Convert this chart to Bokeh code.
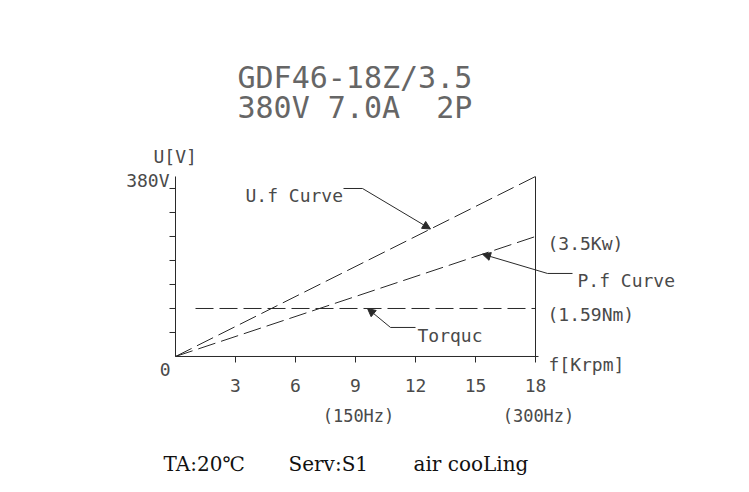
from bokeh.plotting import figure
from bokeh.models import Range1d, Arrow, NormalHead
from bokeh.core.properties import value
from bokeh.embed import file_html
from bokeh.resources import INLINE

# ---- data ----
speed_ticks = [3, 6, 9, 12, 15, 18]          # f [Krpm]
speed_tick_labels = ["3", "6", "9", "12", "15", "18"]
level_ticks = [1, 2, 3, 4, 5, 6, 7]          # y divisions
uf_speed = [0, 18]
uf_level = [0, 7.5]                            # 0 .. 380V
pf_speed = [0, 18]
pf_level = [0, 5.0]                            # 0 .. 3.5Kw
tq_speed = [1, 18]
tq_level = [2.0, 2.0]                          # 1.59Nm
freq_speed = [9, 18]
freq_labels = ["(150Hz)", "(300Hz)"]
title_lines = ["GDF46-18Z/3.5", "380V\u00a07.0A\u00a0\u00a02P"]
footer = ["TA:20\u2103", "Serv:S1", "air cooLing"]

LINE = "#2a2a2a"
TXT = "#4a4a4a"
MONO = value("DejaVu Sans Mono")

p = figure(width=733, height=476, output_backend="svg", toolbar_location=None,
           x_axis_type=None, y_axis_type=None,
           x_range=Range1d(-8.75, 27.9), y_range=Range1d(-5.0, 14.833),
           min_border=0)
p.outline_line_color = None
p.grid.visible = False
p.background_fill_color = "white"
p.border_fill_color = "white"

ymax = uf_level[-1]
xmax = speed_ticks[-1]

# axes
p.segment(x0=[0, 0, xmax], y0=[0, 0, 0], x1=[0, xmax + 0.15, xmax], y1=[ymax, 0, ymax],
          line_color=LINE, line_width=1)
p.segment(x0=[-0.3] * len(level_ticks), y0=level_ticks, x1=[0] * len(level_ticks), y1=level_ticks,
          line_color=LINE, line_width=1)
p.segment(x0=speed_ticks, y0=[-0.25] * len(speed_ticks), x1=speed_ticks, y1=[0] * len(speed_ticks),
          line_color=LINE, line_width=1)

# curves
for xs, ys in ((uf_speed, uf_level), (pf_speed, pf_level), (tq_speed, tq_level)):
    p.line(xs, ys, line_color=LINE, line_width=1, line_dash="18 6")

# tick labels
p.text(x=speed_ticks, y=[-1.21] * len(speed_ticks), text=speed_tick_labels,
       text_font=MONO, text_font_size="18px", text_color=TXT,
       text_align="center", text_baseline="alphabetic")
p.text(x=[s + 0.15 for s in freq_speed], y=[-2.46] * 2, text=freq_labels,
       text_font=MONO, text_font_size="17px", text_color=TXT,
       text_align="center", text_baseline="alphabetic")

def label(x, y, t, size="18px", align="left", font=MONO, color=TXT, baseline="alphabetic"):
    p.text(x=[x], y=[y], text=[t], text_font=font, text_font_size=size,
           text_color=color, text_align=align, text_baseline=baseline)

label(-0.25, -0.54, "0", align="right")
label(-0.3, 7.33, "380V", align="right")
label(-1.1, 8.33, "U[V]")
label(18.65, -0.33, "f[Krpm]")
label(18.6, pf_level[-1] - 0.29, "(3.5Kw)")
label(18.6, tq_level[-1] - 0.25, "(1.59Nm)")
label(3.5, 6.71, "U.f Curve")
label(20.1, 3.17, "P.f Curve")
label(12.1, 0.875, "Torquc")

# title
label(3.1, 11.625, title_lines[0], size="30px", color="#666666")
label(3.1, 10.375, title_lines[1], size="30px", color="#666666")

# footer
SERIF = value("DejaVu Serif")
label(-0.6, -4.96, footer[0], size="20px", font=SERIF, color="#111111", baseline="bottom")
label(5.65, -4.96, footer[1], size="20px", font=SERIF, color="#111111", baseline="bottom")
label(11.9, -4.96, footer[2], size="20px", font=SERIF, color="#111111", baseline="bottom")

# leader lines with arrows
def on_line(xs, ys, x):
    return ys[0] + (ys[1] - ys[0]) * (x - xs[0]) / (xs[1] - xs[0])

leaders = [
    # (horizontal start, elbow x, y, tip x, target series)
    (8.4, 9.35, 7.0, 12.75, (uf_speed, uf_level)),
    (19.85, 18.6, 3.46, 15.35, (pf_speed, pf_level)),
    (12.0, 10.75, 1.21, 9.6, (tq_speed, tq_level)),
]
for hx0, hx1, hy, tx, (sx, sy) in leaders:
    p.line([hx0, hx1], [hy, hy], line_color=LINE, line_width=1)
    ty = on_line(sx, sy, tx)
    p.add_layout(Arrow(end=NormalHead(size=8, fill_color=LINE, line_color=LINE, line_width=1),
                       x_start=hx1, y_start=hy, x_end=tx, y_end=ty,
                       line_color=LINE, line_width=1))

open("out.html", "w").write(file_html(p, INLINE))
